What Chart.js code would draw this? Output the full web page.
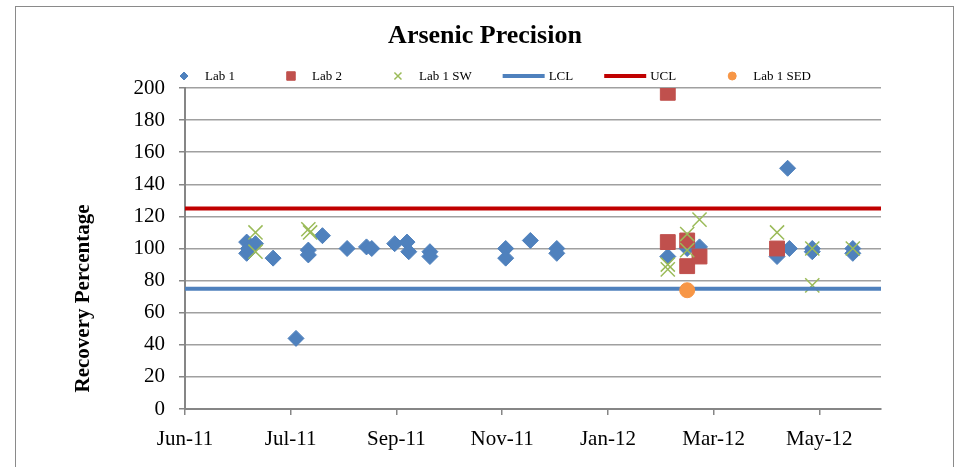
<!DOCTYPE html>
<html><head><meta charset="utf-8">
<script src="https://cdn.jsdelivr.net/npm/chart.js@4.4.0/dist/chart.umd.min.js"></script>
<style>html,body{margin:0;padding:0;background:#fff;} #wrap{width:957px;height:467px;position:relative;} canvas{display:block;}</style>
</head><body><div id="wrap"><canvas id="c" width="957" height="467"></canvas></div>
<script>
// ---- data ----
const chartTitle = "Arsenic Precision";
const yAxisTitle = "Recovery Percentage";
const startDate = "2011-06-01";
const axisEndDay = 395;
const tickStepDays = 60;
const tickLabels = ["Jun-11","Jul-11","Sep-11","Nov-11","Jan-12","Mar-12","May-12"];
const yMin = 0, yMax = 200, yStep = 20;

const lab1Dates = ["2011-07-06","2011-07-06","2011-07-07","2011-07-11","2011-07-21","2011-08-03","2011-08-10","2011-08-10","2011-08-18","2011-09-01","2011-09-12","2011-09-15","2011-09-28","2011-10-05","2011-10-06","2011-10-18","2011-10-18","2011-11-30","2011-11-30","2011-12-14","2011-12-29","2011-12-29","2012-03-01","2012-03-12","2012-03-19","2012-05-02","2012-05-08","2012-05-09","2012-05-22","2012-05-22","2012-06-14","2012-06-14"];
const lab1Values = [104,97,100,103,94,44,99,96,108,100,101,100,103,104,98,98,95,100,94,105,100,97,95,100,101,95,150,100,100,98,100,97];

const lab2Dates = ["2012-03-01","2012-03-01","2012-03-12","2012-03-12","2012-03-19","2012-05-02"];
const lab2Values = [197,104,105,89,95,100];

const lab1SWDates = ["2011-07-11","2011-07-11","2011-08-10","2011-08-11","2012-03-01","2012-03-01","2012-03-12","2012-03-12","2012-03-19","2012-05-02","2012-05-22","2012-05-22","2012-06-14"];
const lab1SWValues = [110,98,112,110,90,87,109,99,118,110,100,77,100];

const lab1SEDDates = ["2012-03-12"];
const lab1SEDValues = [74];

const lclValue = 75;
const uclValue = 125;

const seriesNames = ["Lab 1","Lab 2","Lab 1 SW","LCL","UCL","Lab 1 SED"];

// ---- helpers ----
const dayOf = s => (Date.parse(s) - Date.parse(startDate)) / 86400000;
const pts = (dates, vals) => dates.map((d, i) => ({x: dayOf(d), y: vals[i]}));

const FONT = "'Liberation Serif', 'DejaVu Serif', serif";

function drawSym(ctx, style, x, y, r) {
  if (style === 'rectRot') {
    ctx.moveTo(x - r, y); ctx.lineTo(x, y - r); ctx.lineTo(x + r, y); ctx.lineTo(x, y + r); ctx.closePath();
  } else if (style === 'rect') {
    const s = r * Math.SQRT1_2; ctx.rect(x - s, y - s, 2 * s, 2 * s);
  } else if (style === 'circle') {
    ctx.arc(x, y, r, 0, Math.PI * 2);
  } else if (style === 'crossRot') {
    const s = r * Math.SQRT1_2;
    ctx.moveTo(x - s, y - s); ctx.lineTo(x + s, y + s);
    ctx.moveTo(x - s, y + s); ctx.lineTo(x + s, y - s);
  }
}

const frameAndText = {
  id: 'frameAndText',
  beforeDraw(chart) {
    const ctx = chart.ctx;
    ctx.save();
    ctx.fillStyle = '#fff';
    ctx.fillRect(0, 0, chart.width, chart.height);
    ctx.strokeStyle = '#8a8a8a';
    ctx.lineWidth = 1;
    ctx.strokeRect(15.5, 6.5, 938, chart.height);
    ctx.restore();
  },
  afterDraw(chart) {
    const ctx = chart.ctx;
    const ca = chart.chartArea;
    const cx = 485;
    ctx.save();
    // title
    ctx.fillStyle = '#000';
    ctx.font = "bold 26px " + FONT;
    ctx.textAlign = 'center';
    ctx.textBaseline = 'middle';
    ctx.fillText(chartTitle, cx, 36);
    // y axis title
    ctx.save();
    ctx.translate(84, (ca.top + ca.bottom) / 2 + 50);
    ctx.rotate(-Math.PI / 2);
    ctx.font = "bold 21px " + FONT;
    ctx.fillText(yAxisTitle, 0, 0);
    ctx.restore();
    // legend
    ctx.font = "13px " + FONT;
    const slot = 42, gap = 4, pad = 31;
    const ds = chart.data.datasets;
    let total = 0;
    const widths = ds.map(d => ctx.measureText(d.label).width);
    widths.forEach(w => total += slot + gap + w);
    total += pad * (ds.length - 1);
    let x = cx - total / 2;
    const ly = 76;
    ds.forEach((d, i) => {
      if (d.type === 'line') {
        ctx.strokeStyle = d.borderColor;
        ctx.lineWidth = d.borderWidth;
        ctx.beginPath();
        ctx.moveTo(x, ly);
        ctx.lineTo(x + slot, ly);
        ctx.stroke();
      } else {
        ctx.fillStyle = d.backgroundColor;
        ctx.strokeStyle = d.borderColor;
        ctx.lineWidth = d.borderWidth || 1;
        ctx.beginPath();
        drawSym(ctx, d.pointStyle, x + slot / 2 + 4, ly, d.legendRadius);
        if (d.pointStyle !== 'crossRot') ctx.fill();
        ctx.stroke();
      }
      ctx.fillStyle = '#000';
      ctx.textAlign = 'left';
      ctx.fillText(d.label, x + slot + gap, ly + 1);
      x += slot + gap + widths[i] + pad;
    });
    ctx.restore();
  }
};

const cfg = {
  type: 'scatter',
  data: {
    datasets: [
      { label: seriesNames[0], data: pts(lab1Dates, lab1Values), pointStyle: 'rectRot', pointRadius: 8, legendRadius: 4,
        backgroundColor: '#4F81BD', borderColor: '#4F81BD', borderWidth: 1, order: 5 },
      { label: seriesNames[1], data: pts(lab2Dates, lab2Values), pointStyle: 'rect', pointRadius: 10.5, legendRadius: 6,
        backgroundColor: '#C0504D', borderColor: '#C0504D', borderWidth: 1, order: 4 },
      { label: seriesNames[2], data: pts(lab1SWDates, lab1SWValues), pointStyle: 'crossRot', pointRadius: 10, legendRadius: 5,
        backgroundColor: '#9BBB59', borderColor: '#9BBB59', borderWidth: 1.5, order: 3 },
      { type: 'line', label: seriesNames[3], data: [{x: 0, y: lclValue}, {x: axisEndDay, y: lclValue}], pointRadius: 0,
        borderColor: '#4F81BD', backgroundColor: '#4F81BD', borderWidth: 4, showLine: true, fill: false, order: 2 },
      { type: 'line', label: seriesNames[4], data: [{x: 0, y: uclValue}, {x: axisEndDay, y: uclValue}], pointRadius: 0,
        borderColor: '#C00000', backgroundColor: '#C00000', borderWidth: 4, showLine: true, fill: false, order: 1 },
      { label: seriesNames[5], data: pts(lab1SEDDates, lab1SEDValues), pointStyle: 'circle', pointRadius: 7.5, legendRadius: 4,
        backgroundColor: '#F79646', borderColor: '#F79646', borderWidth: 1, order: 0 }
    ]
  },
  options: {
    responsive: false,
    animation: false,
    layout: { padding: { left: 100, right: 76, top: 88, bottom: 13 } },
    plugins: { legend: { display: false }, title: { display: false }, tooltip: { enabled: false } },
    scales: {
      x: {
        type: 'linear', min: 0, max: axisEndDay,
        afterFit(s) { s.height = 45; },
        ticks: {
          stepSize: tickStepDays, includeBounds: false, autoSkip: false, maxRotation: 0, padding: 12,
          color: '#000', font: { family: FONT, size: 21 },
          callback: v => tickLabels[Math.round(v / tickStepDays)] ?? ''
        },
        grid: { drawOnChartArea: false, drawTicks: true, tickLength: 6, color: '#868686', lineWidth: 1.5 },
        border: { display: true, color: '#868686', width: 2 }
      },
      y: {
        min: yMin, max: yMax,
        afterFit(s) { s.width = 85; },
        ticks: { stepSize: yStep, padding: 14, color: '#000', font: { family: FONT, size: 21 } },
        grid: { color: '#a0a0a0', lineWidth: 1.5, tickLength: 6, tickColor: '#868686' },
        border: { display: true, color: '#868686', width: 2 }
      }
    }
  },
  plugins: [frameAndText]
};
new Chart(document.getElementById('c'), cfg);
</script></body></html>
